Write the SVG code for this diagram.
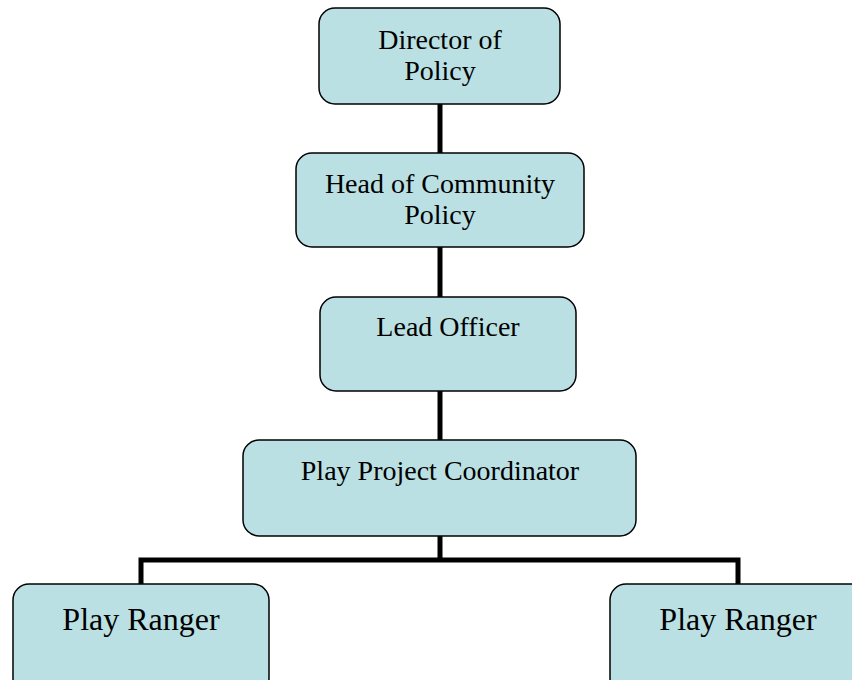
<svg xmlns="http://www.w3.org/2000/svg" width="852" height="680" viewBox="0 0 852 680">
<style>
.box{fill:#bae0e3;stroke:#000;stroke-width:1.5}
.t{font-family:"Liberation Serif","Times New Roman",serif;font-size:28px;fill:#000;text-anchor:middle}
.t2{font-family:"Liberation Serif","Times New Roman",serif;font-size:32px;fill:#000;text-anchor:middle}
.c{stroke:#000;stroke-width:5;fill:none}
</style>
<rect width="852" height="680" fill="#fff"/>
<g id="connectors">
<line class="c" x1="440" y1="104" x2="440" y2="153"/>
<line class="c" x1="440" y1="247" x2="440" y2="297"/>
<line class="c" x1="440" y1="391" x2="440" y2="440"/>
<line class="c" x1="440" y1="536" x2="440" y2="560"/>
<polyline class="c" points="141,585 141,560 738,560 738,585"/>
</g>
<g id="director">
<rect class="box" x="319" y="8" width="241" height="96" rx="16"/>
<text class="t" x="440" y="49">Director of</text>
<text class="t" x="440" y="80">Policy</text>
</g>
<g id="head">
<rect class="box" x="296" y="153" width="288" height="94" rx="16"/>
<text class="t" x="440" y="193">Head of Community</text>
<text class="t" x="440" y="224">Policy</text>
</g>
<g id="lead">
<rect class="box" x="320" y="297" width="256" height="94" rx="16"/>
<text class="t" x="448" y="336">Lead Officer</text>
</g>
<g id="coordinator">
<rect class="box" x="243" y="440" width="393" height="96" rx="16"/>
<text class="t" x="440" y="480">Play Project Coordinator</text>
</g>
<g id="ranger1">
<rect class="box" x="13" y="584" width="256" height="110" rx="16"/>
<text class="t2" x="141" y="630">Play Ranger</text>
</g>
<g id="ranger2">
<rect class="box" x="610" y="584" width="256" height="110" rx="16"/>
<text class="t2" x="738" y="630">Play Ranger</text>
</g>
</svg>
